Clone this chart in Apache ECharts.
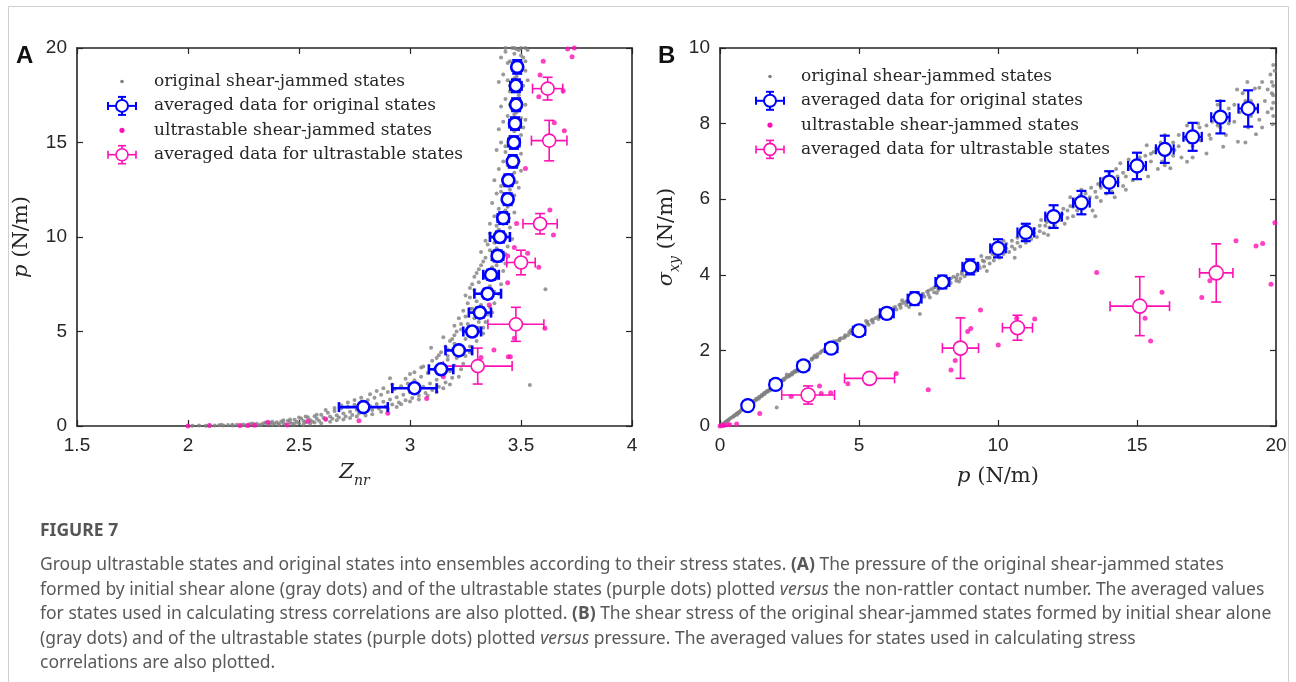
<!DOCTYPE html>
<html>
<head>
<meta charset="utf-8">
<script src="https://cdn.jsdelivr.net/npm/echarts@6/dist/echarts.min.js"></script>
<style>
  html, body { margin: 0; background: #fff; }
  #chart { width: 1296px; height: 682px; }
</style>
</head>
<body>
<div id="chart"></div>
<script>
// ---- panel A : p vs Z_nr ----
// original shear-jammed states [Z, p]
const grayA = [
  [2.02,0.01],[2.05,0.02],[2.08,0.01],[2.1,0.03],[2.12,0.02],[2.14,0.04],[2.16,0.02],[2.18,0.05],[2.2,0.03],[2.22,0.06],
  [2.24,0.04],[2.25,0.08],[2.27,0.05],[2.28,0.1],[2.3,0.06],[2.31,0.12],[2.33,0.08],[2.34,0.14],[2.36,0.09],[2.37,0.17],
  [2.38,0.06],[2.39,0.12],[2.4,0.2],[2.41,0.1],[2.42,0.24],[2.43,0.15],[2.44,0.08],[2.45,0.28],[2.46,0.18],[2.47,0.12],
  [2.48,0.33],[2.49,0.22],[2.5,0.15],[2.51,0.4],[2.52,0.27],[2.53,0.2],[2.54,0.46],[2.55,0.32],[2.56,0.24],[2.57,0.52],[2.58,0.38],
  [2.15,0.06],[2.2,0.07],[2.26,0.03],[2.29,0.13],[2.32,0.04],[2.35,0.18],[2.38,0.22],[2.41,0.05],[2.43,0.3],[2.46,0.35],
  [2.48,0.1],[2.5,0.45],[2.52,0.08],[2.53,0.5],[2.55,0.12],[2.57,0.18],[2.58,0.6],[2.6,0.15],
  [2.59,0.28],[2.6,0.6],[2.61,0.44],[2.62,0.33],[2.63,0.7],[2.64,0.5],[2.65,0.38],[2.66,0.8],[2.67,0.57],[2.68,0.45],
  [2.69,0.92],[2.7,0.66],[2.71,0.5],[2.72,1.02],[2.73,0.76],[2.74,0.58],[2.75,1.12],[2.76,0.86],[2.77,0.66],[2.78,1.25],
  [2.79,0.97],[2.8,0.75],[2.81,1.38],[2.82,1.06],[2.83,0.84],[2.84,1.5],[2.85,1.17],[2.86,0.93],[2.87,1.65],[2.88,1.28],
  [2.89,1.03],[2.9,1.8],[2.91,1.4],[2.92,1.14],[2.93,1.95],[2.94,1.52],[2.95,1.25],
  [2.62,0.85],[2.64,0.22],[2.66,0.95],[2.67,0.3],[2.69,1.1],[2.7,0.35],[2.72,1.25],[2.73,0.42],[2.75,1.38],[2.76,0.5],
  [2.78,1.5],[2.8,0.55],[2.82,1.68],[2.83,0.62],[2.85,1.85],[2.87,0.75],[2.88,2.0],[2.9,0.9],[2.92,2.2],[2.94,1.0],
  [2.96,1.15],[2.98,2.5],
  [2.96,2.1],[2.97,1.65],[2.98,1.36],[2.99,2.25],[3.0,1.78],[3.01,1.48],[3.02,2.42],[3.03,1.92],[3.04,1.6],[3.05,2.6],
  [3.06,2.08],[3.07,1.75],[3.08,2.8],[3.09,2.25],[3.1,1.9],[3.11,3.0],[3.12,2.45],[3.13,2.08],[3.14,3.25],[3.15,2.68],
  [3.16,2.3],[3.17,3.5],[3.18,2.9],[3.19,2.55],[3.2,3.2],[3.095,4.14],[2.91,2.52],[3.0,2.75],[3.05,3.1],
  [3.0,1.3],[3.02,2.85],[3.04,1.4],[3.06,3.15],[3.08,1.6],[3.1,3.45],[3.12,1.8],[3.13,3.75],[3.15,2.0],[3.17,4.05],
  [3.18,2.2],[3.2,4.35],[3.22,2.6],[3.23,3.0],[3.24,3.3],[3.25,3.7],[3.27,3.9],
  [3.12,3.6],[3.14,3.9],[3.16,4.2],[3.17,3.7],[3.18,4.5],[3.19,4.0],[3.2,4.8],[3.21,3.6],[3.22,4.3],[3.23,5.1],
  [3.24,3.9],[3.25,4.6],[3.26,5.4],[3.27,4.2],[3.28,4.9],[3.29,5.7],[3.3,4.5],[3.31,5.2],[3.32,6.0],[3.33,4.9],
  [3.34,5.5],[3.2,5.3],[3.22,5.7],[3.24,6.1],[3.26,6.5],[3.15,4.7],
  [3.19,4.6],[3.21,5.0],[3.23,5.4],[3.25,5.8],[3.27,6.2],[3.29,6.0],[3.3,5.0],[3.31,5.5],[3.33,5.2],[3.35,5.9],
  [3.36,6.3],[3.37,6.0],[3.25,6.9],[3.27,7.3],[3.38,6.5],[3.4,7.0],
  [3.27,6.8],[3.28,6.2],[3.29,7.2],[3.3,6.6],[3.31,7.6],[3.32,6.4],[3.33,7.0],[3.34,8.0],[3.35,6.7],[3.36,7.4],
  [3.37,8.4],[3.38,7.1],[3.39,7.8],[3.4,8.8],[3.41,7.5],[3.42,8.2],[3.3,8.1],[3.32,8.5],[3.34,8.9],[3.36,9.3],
  [3.38,9.0],[3.61,7.23],[3.28,7.5],[3.43,9.1],
  [3.29,7.9],[3.31,8.3],[3.33,8.7],[3.35,8.2],[3.37,8.8],[3.39,8.5],[3.41,9.0],[3.43,8.6],[3.44,9.5],[3.32,9.2],
  [3.34,9.8],[3.36,10.2],[3.38,9.7],[3.46,9.9],
  [3.35,9.6],[3.37,10.0],[3.39,9.4],[3.4,10.4],[3.41,9.8],[3.42,10.8],[3.43,10.1],[3.44,11.2],[3.45,10.5],[3.36,10.7],
  [3.38,11.1],[3.4,11.5],[3.42,11.9],[3.44,11.6],[3.46,12.0],[3.39,12.3],[3.47,11.3],[3.37,11.8],
  [3.39,10.6],[3.41,11.0],[3.43,11.4],[3.45,11.9],[3.47,12.2],[3.49,12.6],[3.41,12.4],[3.44,12.9],[3.46,13.2],[3.48,13.7],
  [3.41,12.7],[3.43,13.1],[3.45,12.5],[3.47,13.4],[3.48,12.9],[3.38,13.0],[3.4,13.6],[3.42,14.0],[3.44,13.8],[3.46,14.3],
  [3.49,14.0],[3.5,13.5],[3.39,14.6],[3.41,15.0],[3.43,14.8],[3.45,15.3],[3.47,15.6],[3.49,15.1],[3.51,15.8],[3.4,15.7],
  [3.42,16.1],[3.44,16.4],[3.46,16.0],[3.48,16.6],
  [3.5,14.4],[3.47,14.9],[3.45,14.1],[3.43,14.5],[3.5,15.4],[3.52,16.2],[3.49,16.8],[3.47,16.5],[3.45,17.0],[3.5,17.8],
  [3.5,16.3],[3.52,17.0],[3.41,16.9],[3.43,17.3],[3.45,17.7],[3.47,17.1],[3.49,17.5],[3.51,18.0],[3.4,18.2],[3.42,18.6],
  [3.44,18.3],[3.46,18.9],[3.48,18.5],[3.5,19.2],[3.52,18.8],[3.41,19.5],[3.43,19.8],[3.45,19.3],[3.47,19.7],[3.49,19.9],
  [3.51,19.5],[3.46,20.0],[3.48,19.95],[3.53,19.9],[3.54,2.17],
  [3.53,18.3],[3.49,18.1],[3.47,18.4],[3.45,18.0],[3.5,19.6],[3.52,19.3],[3.44,19.2],[3.43,20.0],[3.47,20.0],[3.5,20.0],[3.52,20.0]
];
// ultrastable shear-jammed states [Z, p]
const ultraA = [
  [2.0,0.0],[2.096,0.02],[2.234,0.03],[2.27,0.03],[2.3,0.04],[2.36,0.2],[2.447,0.05],[2.54,0.25],[2.62,0.37],[2.77,0.28],
  [2.9,0.67],[3.075,1.46],[3.15,2.6],[3.32,3.63],[3.443,3.67],[3.452,3.67],[3.378,4.02],[3.47,4.64],[3.608,5.17],[3.357,6.4],
  [3.44,7.58],[3.58,8.4],[3.44,8.99],[3.53,9.14],[3.47,9.45],[3.646,10.1],[3.48,10.72],[3.63,11.43],[3.52,13.63],[3.695,15.62],
  [3.65,16.05],[3.58,17.42],[3.69,17.74],[3.586,18.57],[3.6,19.3],[3.73,19.54],[3.71,19.95],[3.74,20.0]
];

// averaged data for original states (shared p bins)
const pAvg = [1, 2, 3, 4, 5, 6, 7, 8, 9, 10, 11, 12, 13, 14, 15, 16, 17, 18, 19];
const pAvgErr = [0.15, 0.2, 0.2, 0.22, 0.22, 0.25, 0.25, 0.25, 0.28, 0.28, 0.3, 0.3, 0.3, 0.32, 0.32, 0.32, 0.33, 0.33, 0.35];
const zAvg = [2.79, 3.02, 3.14, 3.22, 3.28, 3.315, 3.35, 3.365, 3.395, 3.405, 3.42, 3.44, 3.443, 3.463, 3.468, 3.473, 3.478, 3.477, 3.483];
const zAvgErr = [0.11, 0.1, 0.055, 0.06, 0.04, 0.05, 0.06, 0.035, 0.025, 0.045, 0.025, 0.02, 0.02, 0.02, 0.025, 0.025, 0.02, 0.025, 0.02];
const sAvg = [0.54, 1.10, 1.59, 2.06, 2.52, 2.98, 3.37, 3.81, 4.21, 4.70, 5.12, 5.54, 5.91, 6.45, 6.88, 7.32, 7.65, 8.17, 8.40];
const sAvgErr = [0.1, 0.1, 0.12, 0.13, 0.13, 0.14, 0.17, 0.17, 0.2, 0.24, 0.23, 0.3, 0.31, 0.29, 0.35, 0.36, 0.37, 0.43, 0.48];

// averaged data for ultrastable states
const pUlt = [3.17, 5.38, 8.65, 10.7, 15.1, 17.85];
const pUltErr = [0.95, 0.9, 0.65, 0.54, 1.07, 0.6];
const zUlt = [3.305, 3.477, 3.5, 3.586, 3.627, 3.62];
const zUltErr = [0.155, 0.126, 0.064, 0.077, 0.08, 0.068];
const sUlt = [0.82, 1.26, 2.06, 2.6, 3.17, 4.05];
const sUltErr = [0.24, 0.08, 0.8, 0.33, 0.78, 0.77];

// ---- panel B : sigma_xy vs p ----
const grayB = [
  [0.05,0.03],[0.1,0.05],[0.15,0.08],[0.2,0.11],[0.25,0.13],[0.3,0.16],[0.35,0.19],[0.4,0.22],[0.45,0.24],[0.5,0.27],
  [0.55,0.3],[0.6,0.33],[0.65,0.35],[0.7,0.38],[0.75,0.41],[0.8,0.44],[0.85,0.46],[0.9,0.5],[0.95,0.51],[1.0,0.55],
  [0.62,0.3],[0.78,0.45],[0.88,0.44],
  [0.3,0.15],[0.5,0.26],[0.7,0.36],[0.9,0.47],[1.1,0.57],[1.3,0.69],[1.5,0.79],[1.7,0.9],[1.9,1.01],[2.1,1.12],
  [2.3,1.22],[2.5,1.32],[2.7,1.43],[2.9,1.53],[1.0,0.5],[1.4,0.72],[1.8,0.94],[2.2,1.16],[2.6,1.36],
  [1.05,0.56],[1.1,0.6],[1.15,0.62],[1.2,0.66],[1.25,0.67],[1.3,0.72],[1.35,0.73],[1.4,0.77],[1.45,0.78],[1.5,0.82],
  [1.55,0.84],[1.6,0.88],[1.65,0.89],[1.7,0.93],[1.75,0.94],[1.8,0.98],[1.85,1.0],[1.9,1.04],[1.95,1.05],[2.0,1.09],
  [2.05,1.1],[2.1,1.14],[2.15,1.15],[2.2,1.2],[2.25,1.21],[2.3,1.25],[2.35,1.26],[2.4,1.3],[2.45,1.31],[2.5,1.35],
  [2.55,1.37],[2.6,1.41],[2.65,1.42],[2.7,1.46],[2.75,1.47],[2.8,1.51],[2.85,1.53],[2.9,1.56],[2.95,1.58],[1.2,0.62],
  [1.6,0.84],[2.0,1.03],[2.4,1.36],[2.8,1.45],[2.04,0.49],
  [3.05,1.62],[3.15,1.68],[3.2,1.64],[3.3,1.75],[3.35,1.8],[3.45,1.82],[3.5,1.9],[3.6,1.93],[3.65,1.98],[3.75,2.0],
  [3.8,2.06],[3.9,2.08],[4.0,2.1],[4.05,2.17],[4.15,2.18],[4.2,2.25],[4.3,2.26],[4.35,2.32],[4.45,2.33],[4.5,2.4],
  [4.6,2.4],[4.65,2.48],[4.75,2.47],[4.8,2.56],[4.9,2.55],[5.0,2.6],[5.05,2.52],[5.1,2.66],[5.2,2.63],[5.3,2.72],
  [5.35,2.68],[5.45,2.8],[5.5,2.74],[5.6,2.86],[5.7,2.83],[5.75,2.93],[5.85,2.9],[5.95,3.0],[6.0,2.92],[3.4,1.86],
  [4.1,2.24],[4.7,2.53],[5.25,2.78],
  [3.1,1.66],[3.3,1.78],[3.5,1.84],[3.7,1.99],[3.9,2.05],[4.1,2.14],[4.3,2.3],[4.5,2.36],[4.7,2.46],[4.9,2.58],
  [5.1,2.6],[5.3,2.76],[5.5,2.82],[5.7,2.9],[5.9,2.96],[6.1,3.1],[6.3,3.15],[6.5,3.22],[6.7,3.3],[6.9,3.33],
  [7.1,3.45],[7.3,3.45],[7.5,3.58],[7.7,3.66],[7.9,3.65],[8.1,3.76],[8.3,3.9],[8.5,3.92],[8.7,4.02],[8.9,4.06],
  [6.8,3.15],[7.8,3.52],[8.6,3.82],
  [6.1,3.06],[6.2,3.0],[6.25,3.12],[6.35,3.08],[6.45,3.2],[6.5,3.13],[6.6,3.26],[6.7,3.2],[6.75,3.3],[6.85,3.25],
  [6.9,3.38],[7.0,3.32],[7.1,3.42],[7.19,2.96],[7.2,3.36],[7.3,3.5],[7.35,3.42],[7.45,3.55],[7.5,3.47],[7.6,3.62],
  [7.7,3.54],[7.75,3.68],[7.85,3.6],[7.9,3.74],[8.0,3.66],[8.1,3.82],[8.15,3.72],[8.25,3.88],[8.3,3.78],[8.4,3.95],
  [8.5,3.84],[8.55,4.0],[8.65,3.9],[8.7,4.08],[8.8,3.96],[8.9,4.12],[9.0,4.05],[6.55,3.33],[7.05,3.5],[7.55,3.4],[8.05,3.95],
  [9.1,4.2],[9.2,4.1],[9.25,4.3],[9.35,4.18],[9.45,4.38],[9.5,4.22],[9.6,4.45],[9.7,4.3],[9.8,4.55],[9.85,4.38],
  [9.95,4.62],[10.05,4.45],[10.1,4.75],[10.2,4.55],[10.3,4.82],[10.4,4.6],[10.5,4.9],[10.6,4.68],[10.7,4.98],[10.8,4.75],
  [10.9,5.05],[11.0,4.85],[11.1,5.15],[11.2,4.95],[11.3,5.22],[11.4,5.0],[11.5,5.3],[11.55,5.45],[11.65,5.1],[11.75,5.4],
  [11.85,5.25],[11.95,5.55],[9.6,4.1],[10.2,4.9],[10.8,5.1],
  [9.1,4.1],[9.3,4.25],[9.5,4.35],[9.7,4.45],[9.9,4.5],[10.1,4.6],[10.3,4.7],[10.5,4.75],[10.7,4.85],[10.9,4.95],
  [11.1,5.0],[11.3,5.1],[11.5,5.15],[11.7,5.3],[11.9,5.4],[12.1,5.45],[12.3,5.6],[12.5,5.7],[12.7,5.8],[12.9,5.85],
  [13.1,6.0],[13.3,6.05],[13.5,6.2],[13.7,6.3],[13.9,6.35],[14.1,6.5],[14.3,6.6],[14.5,6.7],[14.7,6.8],[14.9,6.85],
  [9.4,4.5],[10.6,4.45],[11.8,5.05],[12.6,6.05],[13.4,5.7],[14.6,6.25],
  [12.05,5.3],[12.15,5.62],[12.25,5.45],[12.35,5.75],[12.5,5.5],[12.6,5.82],[12.7,5.55],[12.8,6.0],[12.85,5.7],[12.95,6.1],
  [13.05,5.75],[13.15,6.15],[13.25,5.9],[13.35,6.3],[13.5,5.55],[13.55,6.05],[13.6,6.4],[13.7,5.95],[13.8,6.55],[13.9,6.15],
  [14.0,6.7],[14.1,6.2],[14.25,6.8],[14.3,6.45],[14.4,6.95],[14.5,6.35],[14.6,6.6],[14.7,7.05],[14.85,6.5],[14.9,7.0],
  [15.0,6.7],[13.0,6.25],[12.4,5.35],[14.2,6.05],
  [15.1,7.1],[15.2,6.85],[15.35,7.43],[15.4,6.6],[15.5,7.0],[15.6,7.25],[15.75,6.8],[15.85,7.5],[15.9,7.0],[16.0,6.9],
  [16.2,6.82],[16.3,7.5],[16.35,7.3],[16.5,7.7],[16.6,7.1],[16.8,6.99],[16.9,7.75],[17.0,7.4],[17.2,8.0],[17.25,7.9],
  [17.5,7.21],[17.6,7.7],[17.65,7.6],[17.8,8.2],[18.0,7.9],[18.1,7.39],[18.3,8.4],[18.5,8.05],[18.6,8.9],[18.63,7.52],
  [18.8,8.8],[18.97,9.1],[19.1,8.2],[19.24,8.93],[19.28,7.72],[19.4,8.95],[19.4,8.1],[19.6,8.6],[19.8,9.3],[19.85,9.1],
  [19.85,8.8],[19.9,8.75],[19.9,9.55],[19.85,8.4],[19.9,8.2],[19.88,7.98],[19.7,8.3],[19.5,7.9],[18.9,7.5],[18.2,7.7],
  [17.9,8.5],[16.8,7.95],
  [15.1,6.95],[15.3,7.15],[15.5,7.2],[15.7,7.35],[15.9,7.3],[16.1,7.45],[16.3,7.15],[16.5,7.4],[16.7,7.6],[16.9,7.5],
  [17.1,7.7],[17.3,7.55],[17.5,7.95],[17.7,8.05],[17.9,7.95],[18.1,8.1],[18.3,8.0],[18.5,8.5],[18.7,8.3],[18.9,8.6],
  [19.1,8.6],[19.3,8.4],[19.5,9.1],[19.7,8.9],[19.9,9.0],[16.0,7.7],[17.0,7.1],[18.0,8.6],[19.0,7.9],[19.95,9.4],[19.9,8.55]
];
// ultrastable shear-jammed states [p, sigma]
const ultraB = [
  [0.0,0.0],[0.08,0.01],[0.15,0.02],[0.27,0.03],[0.35,0.03],[0.6,0.05],[1.43,0.33],[2.56,0.78],[3.58,1.06],[3.64,0.86],
  [3.98,0.88],[4.6,1.12],[6.34,1.39],[7.49,0.96],[8.31,1.48],[8.46,1.73],[8.91,2.5],[9.02,2.58],[9.37,3.07],[10.01,2.14],
  [10.67,2.85],[11.32,2.83],[13.55,4.06],[15.29,2.85],[15.49,2.25],[15.9,3.54],[17.33,3.4],[17.62,3.84],[18.56,4.9],
  [19.28,4.76],[19.52,4.83],[19.82,3.75],[19.96,5.38]
];

const legendLabels = [
  'original shear-jammed states',
  'averaged data for original states',
  'ultrastable shear-jammed states',
  'averaged data for ultrastable states'
];

const captionTitle = 'FIGURE 7';
const captionLines = [
  'Group ultrastable states and original states into ensembles according to their stress states. {b|(A)} The pressure of the original shear-jammed states',
  'formed by initial shear alone (gray dots) and of the ultrastable states (purple dots) plotted {i|versus} the non-rattler contact number. The averaged values',
  'for states used in calculating stress correlations are also plotted. {b|(B)} The shear stress of the original shear-jammed states formed by initial shear alone',
  '(gray dots) and of the ultrastable states (purple dots) plotted {i|versus} pressure. The averaged values for states used in calculating stress',
  'correlations are also plotted.'
];

const GRAY = '#7f7f7f', BLUE = '#0000ff', PINK = '#ff10b4', INK = '#262626';
const SERIF = 'DejaVu Serif', SANS = 'Liberation Sans', CAP = 'Noto Sans';

const chart = echarts.init(document.getElementById('chart'));

// error bar + open circle
function errorBars(color, r, lw, cap) {
  return function (params, api) {
    const x = api.value(0), y = api.value(1), xe = api.value(2), ye = api.value(3);
    const c = api.coord([x, y]);
    const xa = api.coord([x - xe, y])[0], xb = api.coord([x + xe, y])[0];
    const ya = api.coord([x, y - ye])[1], yb = api.coord([x, y + ye])[1];
    const st = { stroke: color, lineWidth: lw, fill: null };
    const ln = (x1, y1, x2, y2) => ({ type: 'line', shape: { x1, y1, x2, y2 }, style: st });
    return {
      type: 'group',
      children: [
        ln(xa, c[1], xb, c[1]),
        ln(xa, c[1] - cap, xa, c[1] + cap),
        ln(xb, c[1] - cap, xb, c[1] + cap),
        ln(c[0], ya, c[0], yb),
        ln(c[0] - cap, ya, c[0] + cap, ya),
        ln(c[0] - cap, yb, c[0] + cap, yb),
        { type: 'circle', shape: { cx: c[0], cy: c[1], r: r }, style: { fill: '#fff', stroke: color, lineWidth: lw } }
      ]
    };
  };
}

const nameRich = {
  i: { fontFamily: SERIF, fontStyle: 'italic', fontSize: 21, color: INK, lineHeight: 30 },
  s: { fontFamily: SERIF, fontStyle: 'italic', fontSize: 14, color: INK, verticalAlign: 'bottom', lineHeight: 30 },
  r: { fontFamily: SERIF, fontSize: 21, color: INK, lineHeight: 30 }
};

function axis(grid, min, max, step, position, name, nameGap, isY) {
  const shown = position === 'bottom' || position === 'left';
  return {
    gridIndex: grid, type: 'value', min: min, max: max, interval: step, position: position,
    axisLine: { show: true, onZero: false, lineStyle: { color: INK, width: 1.6 } },
    axisTick: { show: true, inside: true, length: 6, lineStyle: { color: INK, width: 1.2 } },
    axisLabel: { show: shown, color: INK, fontFamily: SANS, fontSize: 19, margin: 10 },
    splitLine: { show: false },
    name: shown ? name : '', nameLocation: 'middle', nameGap: nameGap,
    nameRotate: isY ? 90 : 0,
    nameTextStyle: { rich: nameRich }
  };
}

// legend drawn as graphic
function legend(ix, tx, y0, gap) {
  const kids = [];
  const kinds = [['dot', GRAY, 1.8], ['bar', BLUE, 2], ['dot', PINK, 2.6], ['bar', PINK, 1.6]];
  kinds.forEach((k, i) => {
    const y = y0 + i * gap;
    if (k[0] === 'dot') {
      kids.push({ type: 'circle', shape: { cx: ix, cy: y, r: k[2] }, style: { fill: k[1] } });
    } else {
      const st = { stroke: k[1], lineWidth: k[2] };
      const segs = [[ix - 14, y, ix + 14, y], [ix - 14, y - 4, ix - 14, y + 4], [ix + 14, y - 4, ix + 14, y + 4],
        [ix, y - 9, ix, y + 9], [ix - 4, y - 9, ix + 4, y - 9], [ix - 4, y + 9, ix + 4, y + 9]];
      segs.forEach(s => kids.push({ type: 'line', shape: { x1: s[0], y1: s[1], x2: s[2], y2: s[3] }, style: st }));
      kids.push({ type: 'circle', shape: { cx: ix, cy: y, r: 6 }, style: { fill: '#fff', stroke: k[1], lineWidth: k[2] } });
    }
    kids.push({ type: 'text', style: { x: tx, y: y, text: legendLabels[i], fill: INK, fontFamily: SERIF, fontSize: 17, verticalAlign: 'middle' } });
  });
  return { type: 'group', children: kids, z: 100 };
}

const capRich = {
  b: { fontFamily: CAP, fontSize: 17.5, fontWeight: 'bold', color: '#333' },
  i: { fontFamily: CAP, fontSize: 17.5, fontStyle: 'italic', color: '#58595b' }
};

const graphics = [
  { type: 'rect', shape: { x: 8.5, y: 6.5, width: 1280, height: 720 }, style: { fill: null, stroke: '#cfcfcf', lineWidth: 1 } },
  { type: 'text', style: { x: 16, y: 56, text: 'A', fontFamily: SANS, fontWeight: 'bold', fontSize: 24, fill: '#111', verticalAlign: 'middle' } },
  { type: 'text', style: { x: 658, y: 56, text: 'B', fontFamily: SANS, fontWeight: 'bold', fontSize: 24, fill: '#111', verticalAlign: 'middle' } },
  legend(122, 154, 81.5, 24.4),
  legend(770, 801, 76.5, 24.3),
  { type: 'text', style: { x: 40, y: 531, text: captionTitle, fontFamily: CAP, fontWeight: 'bold', fontSize: 17.5, fill: '#555', verticalAlign: 'middle' } }
];
captionLines.forEach((t, i) => {
  graphics.push({ type: 'text', style: { x: 40, y: 565 + i * 24.6, text: t, fontFamily: CAP, fontSize: 17.5, fill: '#58595b', verticalAlign: 'middle', rich: capRich } });
});

const zip = (a, b, c, d) => a.map((v, i) => [v, b[i], c[i], d[i]]);

chart.setOption({
  animation: false,
  backgroundColor: '#fff',
  grid: [
    { left: 77, top: 48, width: 555, height: 378 },
    { left: 720, top: 48, width: 556, height: 378 }
  ],
  xAxis: [
    axis(0, 1.5, 4, 0.5, 'bottom', '{i|Z}{s|nr}', 32, false),
    axis(0, 1.5, 4, 0.5, 'top', '', 0, false),
    axis(1, 0, 20, 5, 'bottom', '{i|p}{r| (N/m)}', 36, false),
    axis(1, 0, 20, 5, 'top', '', 0, false)
  ],
  yAxis: [
    axis(0, 0, 20, 5, 'left', '{i|p}{r| (N/m)}', 40, true),
    axis(0, 0, 20, 5, 'right', '', 0, true),
    axis(1, 0, 10, 2, 'left', '{i|σ}{s|xy}{r| (N/m)}', 38, true),
    axis(1, 0, 10, 2, 'right', '', 0, true)
  ],
  series: [
    { name: legendLabels[0], type: 'scatter', xAxisIndex: 0, yAxisIndex: 0, data: grayA, symbolSize: 4, itemStyle: { color: GRAY }, z: 1 },
    { name: legendLabels[2], type: 'scatter', xAxisIndex: 0, yAxisIndex: 0, data: ultraA, symbolSize: 5, itemStyle: { color: PINK }, z: 2 },
    { name: legendLabels[3], type: 'custom', xAxisIndex: 0, yAxisIndex: 0, renderItem: errorBars(PINK, 6.5, 1.6, 5),
      data: zip(zUlt, pUlt, zUltErr, pUltErr), encode: { x: 0, y: 1 }, z: 3 },
    { name: legendLabels[1], type: 'custom', xAxisIndex: 0, yAxisIndex: 0, renderItem: errorBars(BLUE, 6, 2.6, 5),
      data: zip(zAvg, pAvg, zAvgErr, pAvgErr), encode: { x: 0, y: 1 }, z: 4 },

    { name: legendLabels[0], type: 'scatter', xAxisIndex: 2, yAxisIndex: 2, data: grayB, symbolSize: 4, itemStyle: { color: GRAY }, z: 1 },
    { name: legendLabels[1], type: 'custom', xAxisIndex: 2, yAxisIndex: 2, renderItem: errorBars(BLUE, 6.5, 2.2, 5),
      data: zip(pAvg, sAvg, pAvgErr, sAvgErr), encode: { x: 0, y: 1 }, z: 4 },
    { name: legendLabels[2], type: 'scatter', xAxisIndex: 2, yAxisIndex: 2, data: ultraB, symbolSize: 5, itemStyle: { color: PINK }, z: 2 },
    { name: legendLabels[3], type: 'custom', xAxisIndex: 2, yAxisIndex: 2, renderItem: errorBars(PINK, 7, 1.6, 5),
      data: zip(pUlt, sUlt, pUltErr, sUltErr), encode: { x: 0, y: 1 }, z: 3 }
  ],
  graphic: graphics
});
</script>
</body>
</html>
